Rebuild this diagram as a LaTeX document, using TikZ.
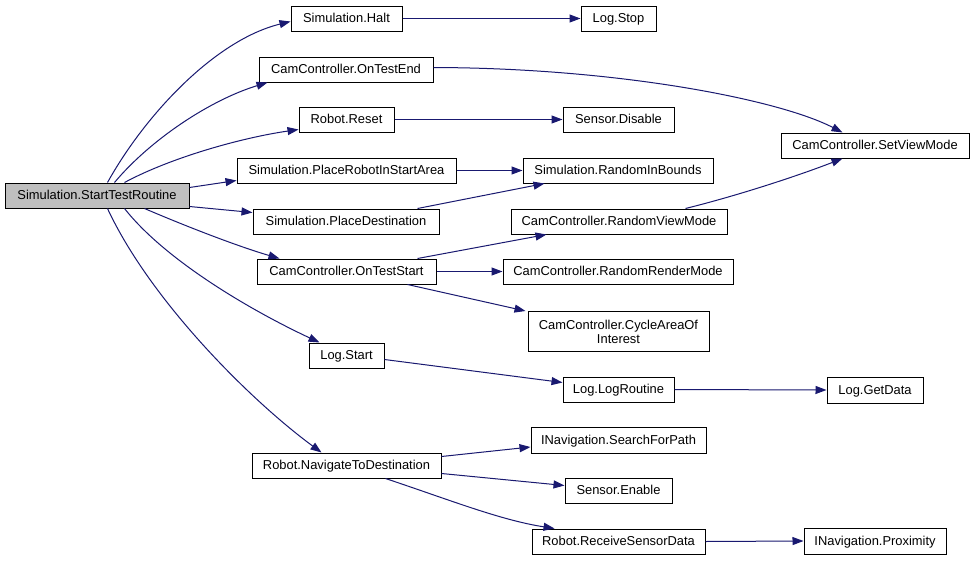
\documentclass[tikz,border=0pt]{standalone}
\usepackage{fontspec}
\setmainfont{Liberation Sans}
\usetikzlibrary{arrows.meta,calc}
\definecolor{edgeblue}{HTML}{191970}
\definecolor{rootgray}{HTML}{BFBFBF}
\begin{document}
\begin{tikzpicture}[x=1pt,y=-1pt,
  box/.style={draw=black,line width=1pt,fill=white,inner sep=0pt,minimum height=25pt,
    font=\fontsize{12.9}{14}\selectfont,text height=10.2pt,text depth=2pt},
  edge/.style={draw=edgeblue,line width=1pt,-{Triangle[length=11pt,width=8pt,fill=edgeblue]}}]
\useasboundingbox (0,0) rectangle (975,560);
\fill[white] (0,0) rectangle (975,560);
% nodes
\node[box,fill=rootgray,minimum width=184pt] (root) at (97,195.5) {Simulation.StartTestRoutine};
\node[box,minimum width=111pt] (halt) at (346.5,18.5) {Simulation.Halt};
\node[box,minimum width=75pt] (stop) at (618.5,18.5) {Log.Stop};
\node[box,minimum width=174pt] (ontestend) at (346,69.5) {CamController.OnTestEnd};
\node[box,minimum width=95pt] (reset) at (346.5,119.5) {Robot.Reset};
\node[box,minimum width=111pt] (sdisable) at (618.5,119.5) {Sensor.Disable};
\node[box,minimum width=188pt] (setview) at (875,145.5) {CamController.SetViewMode};
\node[box,minimum width=219pt] (placerobot) at (346.5,170.5) {Simulation.PlaceRobotInStartArea};
\node[box,minimum width=190pt] (randinb) at (618,170.5) {Simulation.RandomInBounds};
\node[box,minimum width=186pt] (placedest) at (346,221.5) {Simulation.PlaceDestination};
\node[box,minimum width=216pt] (randview) at (619,221.5) {CamController.RandomViewMode};
\node[box,minimum width=179pt] (onteststart) at (346.5,271.5) {CamController.OnTestStart};
\node[box,minimum width=230pt] (randrender) at (618,271.5) {CamController.RandomRenderMode};
\node[box,minimum width=181pt,minimum height=40pt,align=center,text height=,text depth=] (cycle) at (618.5,331.5) {CamController.CycleAreaOf\\Interest};
\node[box,minimum width=75pt] (logstart) at (346.5,355.5) {Log.Start};
\node[box,minimum width=111pt] (logroutine) at (618.5,389.5) {Log.LogRoutine};
\node[box,minimum width=96pt,minimum height=26pt] (getdata) at (875,390) {Log.GetData};
\node[box,minimum width=175pt,minimum height=26pt] (search) at (618.5,440) {INavigation.SearchForPath};
\node[box,minimum width=189pt] (navigate) at (346.5,465.5) {Robot.NavigateToDestination};
\node[box,minimum width=107pt] (senable) at (618.5,490.5) {Sensor.Enable};
\node[box,minimum width=173pt] (receive) at (618.5,541.5) {Robot.ReceiveSensorData};
\node[box,minimum width=142pt,minimum height=26pt] (proximity) at (875,541) {INavigation.Proximity};
% edges from root
\draw[edge] ($(root.north west)+(103,0)$) .. controls (145,115) and (215,40) .. ($(halt.west)+(0,3)$);
\draw[edge] ($(root.north west)+(110,0)$) .. controls (150,140) and (210,100) .. ($(ontestend.south west)+(9,0)$);
\draw[edge] ($(root.north west)+(120,0)$) .. controls (170,158) and (240,138) .. ($(reset.south west)+(0,-3)$);
\draw[edge] ($(root.east)+(0,-8)$) -- ($(placerobot.west)+(0,10)$);
\draw[edge] ($(root.south east)+(0,-2)$) -- ($(placedest.west)+(0,-9)$);
\draw[edge] ($(root.south west)+(140,0)$) .. controls (190,228) and (240,247) .. ($(onteststart.north west)+(23,0)$);
\draw[edge] ($(root.south west)+(120,0)$) .. controls (165,260) and (250,310) .. ($(logstart.north west)+(11,0)$);
\draw[edge] ($(root.south west)+(103,0)$) .. controls (150,300) and (250,400) .. ($(navigate.north west)+(70,0)$);
% other edges
\draw[edge] (halt.east) -- (stop.west);
\draw[edge] ($(ontestend.east)+(0,-2)$) .. controls (620,68) and (780,100) .. ($(setview.north west)+(62,0)$);
\draw[edge] (reset.east) -- (sdisable.west);
\draw[edge] (placerobot.east) -- (randinb.west);
\draw[edge] ($(placedest.north east)+(-22,0)$) -- ($(randinb.south west)+(22,0)$);
\draw[edge] ($(randview.north east)+(-42,0)$) .. controls (740,195) and (800,175) .. ($(setview.south west)+(62,0)$);
\draw[edge] ($(onteststart.north east)+(-19,0)$) -- ($(randview.south west)+(36,0)$);
\draw[edge] (onteststart.east) -- (randrender.west);
\draw[edge] ($(onteststart.south east)+(-29,0)$) -- ($(cycle.north west)+(-2,0)$);
\draw[edge] ($(logstart.east)+(0,4)$) -- ($(logroutine.west)+(0,-7)$);
\draw[edge] (logroutine.east) -- (getdata.west);
\draw[edge] ($(navigate.east)+(0,-9)$) -- ($(search.west)+(0,7)$);
\draw[edge] ($(navigate.east)+(0,8)$) -- ($(senable.west)+(0,-5)$);
\draw[edge] ($(navigate.south east)+(-56,0)$) .. controls (450,500) and (500,520) .. ($(receive.north west)+(23,0)$);
\draw[edge] (receive.east) -- (proximity.west);
\end{tikzpicture}
\end{document}
